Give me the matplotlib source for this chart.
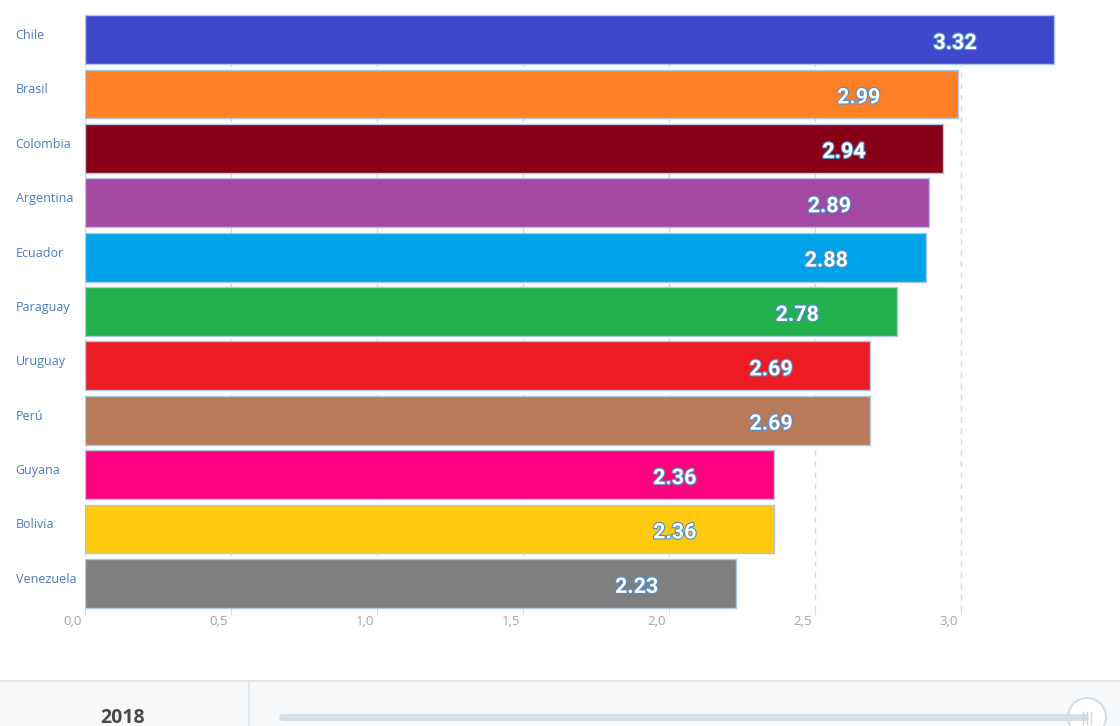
import matplotlib
matplotlib.use('Agg')
import matplotlib.pyplot as plt
import matplotlib.patheffects as pe
import matplotlib.transforms as mtransforms
from matplotlib.patches import Circle, Rectangle

paises = ['Chile', 'Brasil', 'Colombia', 'Argentina', 'Ecuador', 'Paraguay',
          'Uruguay', 'Perú', 'Guyana', 'Bolivia', 'Venezuela']
valores = [3.32, 2.99, 2.94, 2.89, 2.88, 2.78, 2.69, 2.69, 2.36, 2.36, 2.23]
cores = ['#3f48cc', '#ff7f27', '#880015', '#a349a4', '#00a2e8', '#22b14c',
         '#ed1c24', '#b97a57', '#ff007f', '#ffc90e', '#7f7f7f']
ticks = [0.0, 0.5, 1.0, 1.5, 2.0, 2.5, 3.0]
ano = '2018'

fig = plt.figure(figsize=(11.2, 7.26), dpi=100)
ax = fig.add_axes([85 / 1120, 1 - 610.6 / 726, 1 - 85 / 1120, (610.6 - 12.4) / 726])

pos = list(range(len(paises)))
ax.barh(pos, valores, height=0.9, color=cores, edgecolor='#a9c9e6', linewidth=1, zorder=2)

for y, v in zip(pos, valores):
    ax.annotate(f'{v:.2f}', xy=(v, y), xytext=(-56, -2.5), textcoords='offset points',
                ha='right', va='center', color='white', fontsize=15.5,
                fontweight='bold', family=['Roboto', 'DejaVu Sans'],
                path_effects=[pe.withStroke(linewidth=1.6, foreground='#4f8fc9')],
                zorder=3)

ax.set_ylim(len(paises) - 0.5, -0.5)
ax.set_xlim(0, 3.545)
ax.set_xticks(ticks)
ax.set_xticklabels([f'{t:.1f}'.replace('.', ',') for t in ticks])
ax.set_yticks(pos)
ax.set_yticklabels(paises)
ax.tick_params(axis='x', length=3, color='#dddddd', labelsize=9.5, labelcolor='#a9a39f', pad=0)
ax.tick_params(axis='y', length=0, labelsize=9, labelcolor='#4d7cb5', pad=50)

sobe = mtransforms.ScaledTranslation(0, 4 / 72, fig.dpi_scale_trans)
for lbl in ax.get_yticklabels():
    lbl.set_horizontalalignment('left')
    lbl.set_family(['Open Sans', 'DejaVu Sans'])
    lbl.set_transform(lbl.get_transform() + sobe)
esq = mtransforms.ScaledTranslation(-2 / 72, 0, fig.dpi_scale_trans)
for lbl in ax.get_xticklabels():
    lbl.set_horizontalalignment('right')
    lbl.set_family(['Open Sans', 'DejaVu Sans'])
    lbl.set_transform(lbl.get_transform() + esq)

ax.grid(axis='x', color='#d9d9d9', linestyle=(0, (4, 4)), linewidth=1)
ax.set_axisbelow(True)
for s in ax.spines.values():
    s.set_visible(False)

# painel inferior com o ano e o controle deslizante
pn = fig.add_axes([0, 0, 1, 46 / 726])
pn.set_xlim(0, 1120)
pn.set_ylim(0, 46)
pn.axis('off')
pn.add_patch(Rectangle((0, 0), 1120, 46, facecolor='#f7f8fa', edgecolor='none'))
pn.plot([0, 1120], [45.5, 45.5], color='#e4e7eb', linewidth=1.5)
pn.plot([249, 249], [0, 45.5], color='#e4e7eb', linewidth=1.5)
pn.text(123, 8, ano, ha='center', va='center', fontsize=14, fontweight='bold',
        color='#4a4a4a', family=['Open Sans', 'DejaVu Sans'])
pn.plot([282, 1085], [9, 9], color='#d8dee6', linewidth=5, solid_capstyle='round')
pn.add_patch(Circle((1087, 9), 19, facecolor='white', edgecolor='#d8dee6', linewidth=1.5))
for dx in (-4, 0, 4):
    pn.plot([1087 + dx, 1087 + dx], [2, 14], color='#d0d5dc', linewidth=1)

fig.savefig('out.png', dpi=100)
